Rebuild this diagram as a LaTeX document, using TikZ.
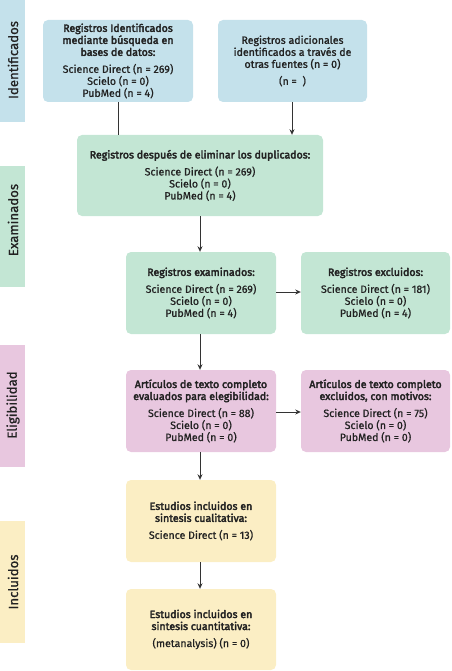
\documentclass[tikz,border=0pt]{standalone}
\usepackage{fontspec}
\setmainfont{Fira Sans}
\newfontfamily\bodyfont{Fira Sans}[FakeBold=0.8]
\newfontfamily\midfont{Fira Sans}[FakeBold=1.6]
\newfontfamily\hdfont{Fira Sans}[FakeBold=3.2]
\usetikzlibrary{arrows.meta}
\definecolor{cblue}{HTML}{C4E1EB}
\definecolor{cgreen}{HTML}{C3E6D4}
\definecolor{cpink}{HTML}{E8C7DF}
\definecolor{cyellow}{HTML}{FBEEC4}
\definecolor{ctext}{HTML}{222222}
\definecolor{cline}{HTML}{333333}
\newcommand{\hd}[1]{{\hdfont #1}}
\begin{document}
\begin{tikzpicture}[x=1pt,y=-1pt,
  box/.style={rounded corners=5pt, inner sep=1pt, align=center, text=ctext,
    font=\bodyfont\fontsize{10.6}{12}\selectfont},
  side/.style={inner sep=0pt, text=ctext, font=\bodyfont\fontsize{13.2}{15}\selectfont, rotate=90},
  conn/.style={draw=cline, line width=0.9pt},
  arr/.style={conn, -{Stealth[length=5.5pt,width=5pt]}}]
\useasboundingbox (0,0) rectangle (451,671);
% side bars
\fill[cblue] (0,0) rectangle (25,122);
\fill[cgreen] (0,166) rectangle (25,287);
\fill[cpink] (0,345) rectangle (25,467);
\fill[cyellow] (0,521) rectangle (25,643);
\node[side] (s1) at (13,60) {Identificados};
\node[side] (s2) at (13,220) {Examinados};
\node[side] (s3) at (13,405) {Eligibilidad};
\node[side] (s4) at (13,582) {Incluidos};
% boxes
\node[box, fill=cblue, minimum width=150pt, minimum height=82pt] (b1) at (118,61)
  {\hd{Registros Identificados}\\\hd{mediante búsqueda en}\\\hd{bases de datos:}\\[5pt]Science Direct (n = 269)\\Scielo (n = 0)\\PubMed (n = 4)};
\node[box, fill=cblue, minimum width=149pt, minimum height=82pt] (b2) at (292.5,61)
  {{\midfont Registros adicionales}\\{\midfont identificados a través de}\\{\midfont otras fuentes (n = 0)}\\[5pt](n =~~)};
\node[box, fill=cgreen, minimum width=246pt, minimum height=81pt] (b3) at (200,175.5)
  {\hd{Registros después de eliminar los duplicados:}\\[5pt]Science Direct (n = 269)\\Scielo (n = 0)\\PubMed (n = 4)};
\node[box, fill=cgreen, minimum width=150pt, minimum height=82pt] (b4) at (201,293)
  {\hd{Registros examinados:}\\[5pt]Science Direct (n = 269)\\Scielo (n = 0)\\PubMed (n = 4)};
\node[box, fill=cgreen, minimum width=149pt, minimum height=82pt] (b5) at (375.5,293)
  {\hd{Registros excluidos:}\\[5pt]Science Direct (n = 181)\\Scielo (n = 0)\\PubMed (n = 4)};
\node[box, fill=cpink, minimum width=150pt, minimum height=82pt] (b6) at (201,411)
  {\hd{Artículos de texto completo}\\\hd{evaluados para elegibilidad:}\\[5pt]Science Direct (n = 88)\\Scielo (n = 0)\\PubMed (n = 0)};
\node[box, fill=cpink, minimum width=149pt, minimum height=82pt] (b7) at (375.5,411)
  {\hd{Artículos de texto completo}\\\hd{excluidos, con motivos:}\\[5pt]Science Direct (n = 75)\\Scielo (n = 0)\\PubMed (n = 0)};
\node[box, fill=cyellow, minimum width=150pt, minimum height=82pt] (b8) at (201,521)
  {\hd{Estudios incluidos en}\\\hd{sintesis cualitativa:}\\[5pt]Science Direct (n = 13)};
\node[box, fill=cyellow, minimum width=150pt, minimum height=81pt] (b9) at (201,629.5)
  {\hd{Estudios incluidos en}\\\hd{sintesis cuantitativa:}\\[5pt](metanalysis) (n = 0)};
% connectors
\draw[conn] (b1.south) -- (b1.south |- b3.north);
\draw[arr] (b2.south -| 292,0) -- (292,0 |- b3.north);
\draw[arr] (b3.south) -- (b3.south |- b4.north);
\draw[arr] (b4.east |- 0,292) -- (b5.west |- 0,292);
\draw[arr] (b3.south |- b4.south) -- (b3.south |- b6.north);
\draw[arr] (b6.east |- 0,412) -- (b7.west |- 0,412);
\draw[arr] (b3.south |- b6.south) -- (b3.south |- b8.north);
\draw[arr] (b3.south |- b8.south) -- (b3.south |- b9.north);
\end{tikzpicture}
\end{document}
